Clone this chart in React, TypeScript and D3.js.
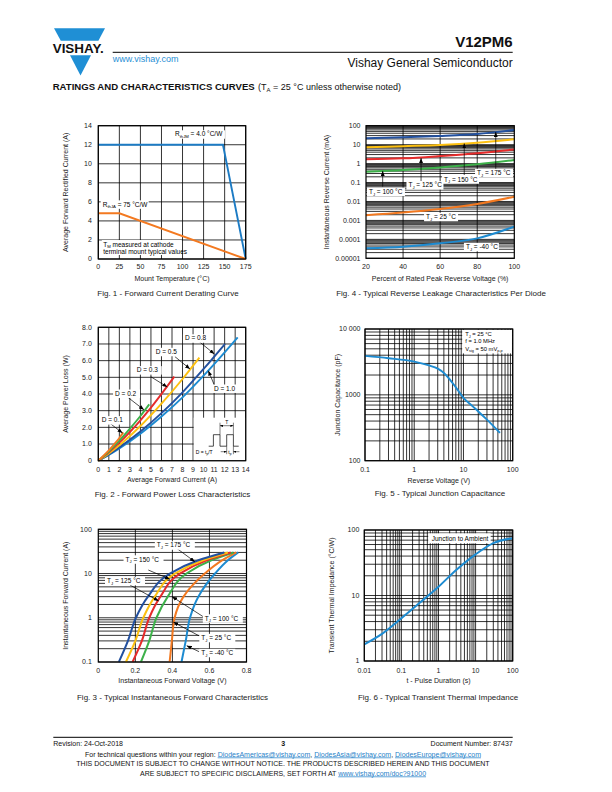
import React from "react";
import * as d3 from "d3";

const FONT = "'Liberation Sans', Arial, Helvetica, sans-serif";

const BLUE_DARK = "#22509f";
const BLUE_LIGHT = "#1d8bd1";
const ORANGE = "#f37920";
const YELLOW = "#fdc010";
const RED = "#e62b2b";
const GREEN = "#3db14a";
const BLUE_FIG1 = "#1c7bc4";
const VISHAY_BLUE = "#1f8fd5";
const LINK = "#1f7fc8";

type Pt = [number, number];

// ---------------- Fig. 1 ----------------
const fig1XTicks = [0, 25, 50, 75, 100, 125, 150, 175];
const fig1YTicks = [0, 2, 4, 6, 8, 10, 12, 14];
const fig1RthJM: Pt[] = [[0, 12], [148, 12], [175, 0]];
const fig1RthJA: Pt[] = [[0, 4.8], [25, 4.8], [175, 0]];

// ---------------- Fig. 2 ----------------
const fig2XTicks = [0, 1, 2, 3, 4, 5, 6, 7, 8, 9, 10, 11, 12, 13, 14];
const fig2YTicks = [0, 1, 2, 3, 4, 5, 6, 7, 8];
const fig2YLabels = ["0", "1.0", "2.0", "3.0", "4.0", "5.0", "6.0", "7.0", "8.0"];
const fig2D01: Pt[] = [[0, 0], [0.5, 0.3], [1, 0.62], [1.5, 0.98], [2, 1.36], [2.37, 1.7]];
const fig2D02: Pt[] = [[0, 0], [1, 0.55], [2, 1.2], [3, 1.92], [4, 2.68], [4.84, 3.38]];
const fig2D03: Pt[] = [[0, 0], [1, 0.5], [2, 1.08], [3, 1.72], [4, 2.42], [5, 3.18], [6, 4.0], [7.22, 5.04]];
const fig2D05: Pt[] = [[0, 0], [1, 0.44], [2, 0.93], [4, 2.08], [6, 3.42], [8, 4.9], [9.6, 6.18]];
const fig2D08: Pt[] = [[0, 0], [1, 0.38], [2, 0.8], [4, 1.75], [6, 2.85], [8, 4.1], [10, 5.5], [12.03, 7.0]];
const fig2D10: Pt[] = [[0, 0], [1, 0.35], [2, 0.74], [4, 1.62], [6, 2.65], [8, 3.8], [10, 5.1], [12, 6.5], [13.24, 7.4]];

// ---------------- Fig. 3 ----------------
const fig3XTicks = [0, 0.2, 0.4, 0.6, 0.8];
const fig3XLabels = ["0", "0.2", "0.4", "0.6", "0.8"];
const fig3YTicks = [0.1, 1, 10, 100];
const fig3YLabels = ["0.1", "1", "10", "100"];
const fig3Current = [0.1, 0.3, 1, 3, 10, 20, 30];
const fig3T175 = [0.111, 0.16, 0.203, 0.268, 0.386, 0.54, 0.68];
const fig3T150 = [0.149, 0.2, 0.243, 0.305, 0.413, 0.565, 0.7];
const fig3T125 = [0.185, 0.235, 0.275, 0.335, 0.44, 0.585, 0.715];
const fig3T100 = [0.23, 0.275, 0.314, 0.375, 0.476, 0.61, 0.73];
const fig3T25 = [0.385, 0.397, 0.412, 0.46, 0.575, 0.67, 0.745];
const fig3Tm40 = [0.449, 0.472, 0.495, 0.54, 0.63, 0.7, 0.755];

// ---------------- Fig. 4 ----------------
const fig4XTicks = [20, 40, 60, 80, 100];
const fig4YTicks = [1e-5, 1e-4, 1e-3, 1e-2, 0.1, 1, 10, 100];
const fig4YLabels = ["0.00001", "0.0001", "0.001", "0.01", "0.1", "1", "10", "100"];
const fig4Pct = [20, 40, 60, 80, 100];
const fig4T175 = [21.6, 24.4, 28.6, 36.5, 59];
const fig4T150 = [7.2, 8.3, 9.6, 12.6, 19];
const fig4T125 = [1.7, 1.9, 2.5, 3.5, 5.6];
const fig4T100 = [0.37, 0.46, 0.63, 0.92, 1.55];
const fig4T25 = [0.0019, 0.0026, 0.004, 0.0074, 0.0178];
const fig4Tm40 = [0.000034, 0.000041, 0.000062, 0.000113, 0.00047];

// ---------------- Fig. 5 ----------------
const fig5XTicks = [0.1, 1, 10, 100];
const fig5XLabels = ["0.1", "1", "10", "100"];
const fig5YTicks = [100, 1000, 10000];
const fig5YLabels = ["100", "1000", "10 000"];
const fig5Voltage = [0.1, 0.3, 1, 2, 3, 4, 5, 7, 10, 15, 20, 30, 55];
const fig5Cap = [3900, 3600, 3200, 2800, 2500, 2150, 1800, 1300, 900, 680, 560, 420, 265];

// ---------------- Fig. 6 ----------------
const fig6XTicks = [0.01, 0.1, 1, 10, 100];
const fig6XLabels = ["0.01", "0.1", "1", "10", "100"];
const fig6YTicks = [1, 10, 100];
const fig6YLabels = ["1", "10", "100"];
const fig6Time = [0.01, 0.03, 0.1, 0.3, 1, 3, 10, 30, 100];
const fig6Z = [1.8, 2.6, 4.5, 7.6, 13.6, 24.5, 42.5, 63, 75];

// ---------------- helpers ----------------
function Sub({ b, s, r, fs }: { b: string; s: string; r: string; fs: number }) {
  return (
    <>
      {b}
      <tspan fontSize={fs * 0.65} dy={fs * 0.28}>{s}</tspan>
      <tspan dy={-fs * 0.28}>{r}</tspan>
    </>
  );
}

function Label({ x, y, w, fs = 6.5, children }: { x: number; y: number; w: number; fs?: number; children: React.ReactNode }) {
  return (
    <g>
      <rect x={x - 2} y={y - fs * 0.95} width={w} height={fs * 1.3} fill="#fff" />
      <text x={x} y={y} fontSize={fs}>{children}</text>
    </g>
  );
}

function Arrow({ x1, y1, x2, y2 }: { x1: number; y1: number; x2: number; y2: number }) {
  return <line x1={x1} y1={y1} x2={x2} y2={y2} stroke="#000" strokeWidth={0.7} markerEnd="url(#arr)" />;
}

type FrameProps = {
  x: any;
  y: any;
  xGrid: number[];
  yGrid: number[];
  xTicks: number[];
  xLabels: string[];
  yTicks: number[];
  yLabels: string[];
  yLabelGap: number;
  xLabelY: number;
  xTitle: string;
  xTitleY: number;
  yTitle: string;
  yTitleX: number;
  caption: string;
  captionX: number;
  captionY: number;
  children?: React.ReactNode;
};

function Frame(p: FrameProps) {
  const [x0, x1] = p.x.range();
  const [yb, yt] = p.y.range();
  const xm = (x0 + x1) / 2;
  const ym = (yb + yt) / 2;
  return (
    <g>
      <g stroke="#000" strokeWidth={0.8}>
        {p.xGrid.map((v, i) => (
          <line key={"gx" + i} x1={p.x(v)} x2={p.x(v)} y1={yt} y2={yb} />
        ))}
        {p.yGrid.map((v, i) => (
          <line key={"gy" + i} x1={x0} x2={x1} y1={p.y(v)} y2={p.y(v)} />
        ))}
      </g>
      {p.children}
      <rect x={x0} y={yt} width={x1 - x0} height={yb - yt} fill="none" stroke="#000" strokeWidth={1.2} />
      <g fontSize={7} fill="#222">
        {p.xTicks.map((v, i) => (
          <text key={"xl" + i} x={p.x(v)} y={p.xLabelY} textAnchor="middle">{p.xLabels[i]}</text>
        ))}
        {p.yTicks.map((v, i) => (
          <text key={"yl" + i} x={x0 - p.yLabelGap} y={p.y(v)} dy="0.35em" textAnchor="end">{p.yLabels[i]}</text>
        ))}
        <text x={xm} y={p.xTitleY} textAnchor="middle">{p.xTitle}</text>
        <text transform={`translate(${p.yTitleX},${ym}) rotate(-90)`} textAnchor="middle">{p.yTitle}</text>
      </g>
      <text x={p.captionX} y={p.captionY} fontSize={8} textAnchor="middle" fill="#222">{p.caption}</text>
    </g>
  );
}

const pathOf = (pts: Pt[], x: any, y: any, curve: any = d3.curveLinear) =>
  d3.line<Pt>().x((d) => x(d[0])).y((d) => y(d[1])).curve(curve)(pts) || "";

// ---------------- figures ----------------
function Fig1() {
  const x = d3.scaleLinear().domain([0, 175]).range([98.3, 245.7]);
  const y = d3.scaleLinear().domain([0, 14]).range([259, 125.7]);
  const fs = 6.5;
  return (
    <Frame x={x} y={y} xGrid={fig1XTicks} yGrid={fig1YTicks} xTicks={fig1XTicks} xLabels={fig1XTicks.map(String)}
      yTicks={fig1YTicks} yLabels={fig1YTicks.map(String)} yLabelGap={6.5} xLabelY={269} xTitle="Mount Temperature (°C)"
      xTitleY={281} yTitle="Average Forward Rectified Current (A)" yTitleX={68} caption="Fig. 1 - Forward Current Derating Curve"
      captionX={168} captionY={296}>
      <path d={pathOf(fig1RthJM, x, y)} fill="none" stroke={BLUE_FIG1} strokeWidth={1.9} />
      <path d={pathOf(fig1RthJA, x, y)} fill="none" stroke={ORANGE} strokeWidth={1.9} />
      <Label x={x(91)} y={y(12.87)} w={52} fs={fs}><Sub b="R" s="thJM" r=" = 4.0 °C/W" fs={fs} /></Label>
      <Label x={x(5.2)} y={y(5.51)} w={48} fs={fs}><Sub b="R" s="thJA" r=" = 75 °C/W" fs={fs} /></Label>
      <rect x={x(4.2)} y={y(1.31) - 6.5} width={80} height={15} fill="#fff" />
      <text x={x(5.9)} y={y(1.31)} fontSize={fs}><Sub b="T" s="M" r=" measured at cathode" fs={fs} /></text>
      <text x={x(5.9)} y={y(0.525)} fontSize={fs}>terminal mount typical values</text>
    </Frame>
  );
}

function Fig2() {
  const x = d3.scaleLinear().domain([0, 14]).range([98.3, 245.7]);
  const y = d3.scaleLinear().domain([0, 8]).range([460.7, 327.3]);
  const fs = 6.5;
  const series: { pts: Pt[]; color: string }[] = [
    { pts: fig2D10, color: BLUE_LIGHT },
    { pts: fig2D08, color: BLUE_DARK },
    { pts: fig2D05, color: YELLOW },
    { pts: fig2D03, color: RED },
    { pts: fig2D02, color: GREEN },
    { pts: fig2D01, color: ORANGE },
  ];
  const labels: { t: string; at: Pt; w: number; a: [Pt, Pt] }[] = [
    { t: "D = 0.8", at: [8.23, 7.21], w: 27, a: [[9.59, 7.14], [11.02, 6.4]] },
    { t: "D = 0.5", at: [5.45, 6.4], w: 27, a: [[7.28, 6.24], [8.71, 5.5]] },
    { t: "D = 0.3", at: [3.65, 5.3], w: 27, a: [[4.98, 5.04], [6.55, 4.42]] },
    { t: "D = 0.2", at: [1.59, 3.9], w: 27, a: [[2.85, 3.78], [4.34, 3.05]] },
    { t: "D = 0.1", at: [0.32, 2.3], w: 27, a: [[1.11, 2.24], [2.3, 1.66]] },
    { t: "D = 1.0", at: [10.99, 4.2], w: 27, a: [[11.08, 4.44], [10.45, 5.4]] },
  ];
  const [, x1] = x.range();
  const [yb] = y.range();
  // inset (pulse waveform schematic) anchored to lower-right corner
  const ix = x1 - 52;
  const iy = yb - 43;
  const base = iy + 28.5;
  const high = iy + 17;
  const r1 = ix + 19.7, f1 = ix + 26.3, r2 = ix + 33, f2 = ix + 39.7;
  return (
    <Frame x={x} y={y} xGrid={fig2XTicks} yGrid={fig2YTicks} xTicks={fig2XTicks} xLabels={fig2XTicks.map(String)}
      yTicks={fig2YTicks} yLabels={fig2YLabels} yLabelGap={6.5} xLabelY={471.5} xTitle="Average Forward Current (A)"
      xTitleY={482} yTitle="Average Power Loss (W)" yTitleX={68} caption="Fig. 2 - Forward Power Loss Characteristics"
      captionX={172.5} captionY={497}>
      {series.map((s, i) => (
        <path key={i} d={pathOf(s.pts, x, y, d3.curveMonotoneX)} fill="none" stroke={s.color} strokeWidth={1.9} />
      ))}
      {labels.map((l, i) => (
        <Arrow key={"a" + i} x1={x(l.a[0][0])} y1={y(l.a[0][1])} x2={x(l.a[1][0])} y2={y(l.a[1][1])} />
      ))}
      {labels.map((l, i) => (
        <Label key={"l" + i} x={x(l.at[0])} y={y(l.at[1])} w={l.w} fs={fs}>{l.t}</Label>
      ))}
      <rect x={ix} y={iy} width={52} height={43} fill="#fff" />
      <path d={`M${ix + 15},${base}H${r1}V${high}H${f1}V${base}H${r2}V${high}H${f2}V${base}H${ix + 45}`} fill="none" stroke="#000" strokeWidth={0.7} />
      <line x1={f1} x2={f1} y1={high} y2={iy + 5} stroke="#000" strokeWidth={0.5} />
      <line x1={f2} x2={f2} y1={high} y2={iy + 5} stroke="#000" strokeWidth={0.5} />
      <line x1={f1} x2={f2} y1={iy + 8} y2={iy + 8} stroke="#000" strokeWidth={0.5} markerEnd="url(#arrS)" markerStart="url(#arrSr)" />
      <text x={(f1 + f2) / 2} y={iy + 6} fontSize={5} textAnchor="middle">T</text>
      <line x1={r2} x2={r2} y1={base} y2={base + 8} stroke="#000" strokeWidth={0.5} />
      <line x1={f2} x2={f2} y1={base} y2={base + 8} stroke="#000" strokeWidth={0.5} />
      <line x1={r2 - 6} x2={r2} y1={base + 5.5} y2={base + 5.5} stroke="#000" strokeWidth={0.5} markerEnd="url(#arrS)" />
      <line x1={f2 + 6} x2={f2} y1={base + 5.5} y2={base + 5.5} stroke="#000" strokeWidth={0.5} markerEnd="url(#arrS)" />
      <text x={r2 + 1.6} y={base + 7.5} fontSize={5}><Sub b="t" s="p" r="" fs={5} /></text>
      <text x={ix + 2} y={base + 7.5} fontSize={5}>D = <Sub b="t" s="p" r="/T" fs={5} /></text>
    </Frame>
  );
}

function Fig3() {
  const x = d3.scaleLinear().domain([0, 0.8]).range([98.3, 246.5]);
  const y = d3.scaleLog().domain([0.1, 100]).range([662, 529.3]);
  const fs = 6.5;
  const series: { v: number[]; color: string }[] = [
    { v: fig3Tm40, color: BLUE_LIGHT },
    { v: fig3T25, color: ORANGE },
    { v: fig3T100, color: GREEN },
    { v: fig3T125, color: RED },
    { v: fig3T150, color: YELLOW },
    { v: fig3T175, color: BLUE_DARK },
  ];
  const labels: { t: string; at: Pt; w: number; a: [Pt, Pt] }[] = [
    { t: " = 175 °C", at: [0.316, 38.8], w: 40, a: [[0.423, 37.2], [0.521, 18.5]] },
    { t: " = 150 °C", at: [0.147, 18.7], w: 40, a: [[0.27, 12], [0.387, 7.4]] },
    { t: " = 125 °C", at: [0.047, 6.1], w: 40, a: [[0.171, 5.5], [0.326, 2.4]] },
    { t: " = 100 °C", at: [0.575, 0.867], w: 40, a: [[0.566, 1.06], [0.398, 3.0]] },
    { t: " = 25 °C", at: [0.556, 0.314], w: 36, a: [[0.544, 0.39], [0.405, 0.8]] },
    { t: " = -40 °C", at: [0.556, 0.144], w: 36, a: [[0.544, 0.171], [0.477, 0.234]] },
  ];
  return (
    <Frame x={x} y={y} xGrid={[0.2, 0.4, 0.6]} yGrid={y.ticks()} xTicks={fig3XTicks} xLabels={fig3XLabels}
      yTicks={fig3YTicks} yLabels={fig3YLabels} yLabelGap={6.5} xLabelY={672.5} xTitle="Instantaneous Forward Voltage (V)"
      xTitleY={683} yTitle="Instantaneous Forward Current (A)" yTitleX={68}
      caption="Fig. 3 - Typical Instantaneous Forward Characteristics" captionX={172.5} captionY={699.5}>
      {series.map((s, i) => (
        <path key={i} d={pathOf(s.v.map((v, j) => [v, fig3Current[j]] as Pt), x, y, d3.curveMonotoneY)} fill="none" stroke={s.color} strokeWidth={2} />
      ))}
      {labels.map((l, i) => (
        <Arrow key={"a" + i} x1={x(l.a[0][0])} y1={y(l.a[0][1])} x2={x(l.a[1][0])} y2={y(l.a[1][1])} />
      ))}
      {labels.map((l, i) => (
        <Label key={"l" + i} x={x(l.at[0])} y={y(l.at[1])} w={l.w} fs={fs}><Sub b="T" s="J" r={l.t} fs={fs} /></Label>
      ))}
    </Frame>
  );
}

function Fig4() {
  const x = d3.scaleLinear().domain([20, 100]).range([366, 514.3]);
  const y = d3.scaleLog().domain([1e-5, 100]).range([258.3, 125.7]);
  const fs = 6.5;
  const series: { v: number[]; color: string }[] = [
    { v: fig4T175, color: BLUE_DARK },
    { v: fig4T150, color: YELLOW },
    { v: fig4T125, color: RED },
    { v: fig4T100, color: GREEN },
    { v: fig4T25, color: ORANGE },
    { v: fig4Tm40, color: BLUE_LIGHT },
  ];
  const arrows: [Pt, Pt][] = [
    [[29, 0.06], [29, 0.41]],
    [[49.7, 0.12], [49.7, 1.95]],
    [[73, 0.25], [73, 11.5]],
    [[90, 0.5], [90, 46]],
  ];
  const labels: { t: string; at: Pt; w: number }[] = [
    { t: " = 175 °C", at: [79.9, 0.249], w: 38 },
    { t: " = 150 °C", at: [62.1, 0.113], w: 37 },
    { t: " = 125 °C", at: [42.9, 0.056], w: 37 },
    { t: " = 100 °C", at: [21.6, 0.0254], w: 38 },
    { t: " = 25 °C", at: [52.4, 0.00119], w: 34 },
    { t: " = -40 °C", at: [73.9, 0.000031], w: 35 },
  ];
  return (
    <Frame x={x} y={y} xGrid={[40, 60, 80]} yGrid={y.ticks()} xTicks={fig4XTicks} xLabels={fig4XTicks.map(String)}
      yTicks={fig4YTicks} yLabels={fig4YLabels} yLabelGap={5.5} xLabelY={269} xTitle="Percent of Rated Peak Reverse Voltage (%)"
      xTitleY={281} yTitle="Instantaneous Reverse Current (mA)" yTitleX={329}
      caption="Fig. 4 - Typical Reverse Leakage Characteristics Per Diode" captionX={441} captionY={296}>
      {series.map((s, i) => (
        <path key={i} d={pathOf(s.v.map((v, j) => [fig4Pct[j], v] as Pt), x, y, d3.curveMonotoneX)} fill="none" stroke={s.color} strokeWidth={2} />
      ))}
      {arrows.map((a, i) => (
        <Arrow key={"a" + i} x1={x(a[0][0])} y1={y(a[0][1])} x2={x(a[1][0])} y2={y(a[1][1])} />
      ))}
      {labels.map((l, i) => (
        <Label key={"l" + i} x={x(l.at[0])} y={y(l.at[1])} w={l.w} fs={fs}><Sub b="T" s="J" r={l.t} fs={fs} /></Label>
      ))}
    </Frame>
  );
}

function Fig5() {
  const x = d3.scaleLog().domain([0.1, 100]).range([365, 512.7]);
  const y = d3.scaleLog().domain([100, 10000]).range([460.7, 329]);
  const fs = 5.8;
  const [, x1] = x.range();
  const [, yt] = y.range();
  const bx = x1 - 50.5;
  const by = yt + 0.8;
  return (
    <Frame x={x} y={y} xGrid={x.ticks()} yGrid={y.ticks()} xTicks={fig5XTicks} xLabels={fig5XLabels}
      yTicks={fig5YTicks} yLabels={fig5YLabels} yLabelGap={4.5} xLabelY={471.5} xTitle="Reverse Voltage (V)"
      xTitleY={483} yTitle="Junction Capacitance (pF)" yTitleX={340}
      caption="Fig. 5 - Typical Junction Capacitance" captionX={440} captionY={495.5}>
      <path d={pathOf(fig5Voltage.map((v, j) => [v, fig5Cap[j]] as Pt), x, y, d3.curveMonotoneX)} fill="none" stroke={BLUE_LIGHT} strokeWidth={1.9} />
      <rect x={bx} y={by} width={49.8} height={23.6} fill="#fff" />
      <text x={bx + 3} y={by + 6.3} fontSize={fs}><Sub b="T" s="J" r=" = 25 °C" fs={fs} /></text>
      <text x={bx + 3} y={by + 13.6} fontSize={fs}>f = 1.0 MHz</text>
      <text x={bx + 3} y={by + 20.9} fontSize={fs}><Sub b="V" s="sig" r=" = 50 mV" fs={fs} /><tspan fontSize={fs * 0.65} dy={fs * 0.28}>p-p</tspan></text>
    </Frame>
  );
}

function Fig6() {
  const x = d3.scaleLog().domain([0.01, 100]).range([364.3, 512.7]);
  const y = d3.scaleLog().domain([1, 100]).range([661, 530]);
  const fs = 6.5;
  const [, x1] = x.range();
  const [, yt] = y.range();
  return (
    <Frame x={x} y={y} xGrid={x.ticks()} yGrid={y.ticks()} xTicks={fig6XTicks} xLabels={fig6XLabels}
      yTicks={fig6YTicks} yLabels={fig6YLabels} yLabelGap={5} xLabelY={672.5} xTitle="t - Pulse Duration (s)"
      xTitleY={683} yTitle="Transient Thermal Impedance (°C/W)" yTitleX={334}
      caption="Fig. 6 - Typical Transient Thermal Impedance" captionX={438} captionY={699.5}>
      <path d={pathOf(fig6Time.map((v, j) => [v, fig6Z[j]] as Pt), x, y, d3.curveMonotoneX)} fill="none" stroke={BLUE_LIGHT} strokeWidth={2} />
      <rect x={x1 - 84.5} y={yt + 3.3} width={62.5} height={10} fill="#fff" />
      <text x={x1 - 81} y={yt + 10.5} fontSize={fs}>Junction to Ambient</text>
    </Frame>
  );
}

function Header() {
  return (
    <g>
      <polygon points="54,28.3 105,28.3 98.4,40.8 60.8,40.8" fill={VISHAY_BLUE} />
      <polygon points="70,55.2 91,55.2 80.5,75.5" fill={VISHAY_BLUE} />
      <text x={52.7} y={53} fontSize={12.5} fontWeight="bold" textLength={51} lengthAdjust="spacingAndGlyphs" fill="#111">VISHAY.</text>
      <line x1={112.7} x2={512.7} y1={52.3} y2={52.3} stroke="#000" strokeWidth={1} />
      <text x={112.7} y={62} fontSize={9} fill={VISHAY_BLUE}>www.vishay.com</text>
      <text x={512.7} y={46.5} fontSize={15} fontWeight="bold" textAnchor="end" fill="#111">V12PM6</text>
      <text x={512.7} y={66.5} fontSize={12} textAnchor="end" fill="#111">Vishay General Semiconductor</text>
      <text x={52.7} y={90} fontSize={9.2} fontWeight="bold" textLength={202} lengthAdjust="spacingAndGlyphs" fill="#111">RATINGS AND CHARACTERISTICS CURVES</text>
      <text x={258} y={90} fontSize={9} fill="#111">(T<tspan fontSize={6} dy={2}>A</tspan><tspan dy={-2}> = 25 °C unless otherwise noted)</tspan></text>
    </g>
  );
}

function Footer() {
  const u = { textDecoration: "underline" } as React.CSSProperties;
  return (
    <g fontSize={7} fill="#111">
      <line x1={53.3} x2={512.7} y1={737.3} y2={737.3} stroke="#000" strokeWidth={1} />
      <text x={53.3} y={745.5}>Revision: 24-Oct-2018</text>
      <text x={283.3} y={746} textAnchor="middle" fontWeight="bold">3</text>
      <text x={512.7} y={745.5} textAnchor="end">Document Number: 87437</text>
      <text x={283} y={756.5} textAnchor="middle">
        For technical questions within your region:{" "}
        <tspan fill={LINK} style={u}>DiodesAmericas@vishay.com</tspan>,{" "}
        <tspan fill={LINK} style={u}>DiodesAsia@vishay.com</tspan>,{" "}
        <tspan fill={LINK} style={u}>DiodesEurope@vishay.com</tspan>
      </text>
      <text x={283} y={766} textAnchor="middle">THIS DOCUMENT IS SUBJECT TO CHANGE WITHOUT NOTICE. THE PRODUCTS DESCRIBED HEREIN AND THIS DOCUMENT</text>
      <text x={283} y={775.5} textAnchor="middle">
        ARE SUBJECT TO SPECIFIC DISCLAIMERS, SET FORTH AT <tspan fill={LINK} style={u}>www.vishay.com/doc?91000</tspan>
      </text>
    </g>
  );
}

export default function App() {
  return (
    <svg width={612} height={792} viewBox="0 0 612 792" style={{ position: "absolute", left: 0, top: 0, background: "#fff" }}
      fontFamily={FONT}>
      <defs>
        <marker id="arr" viewBox="0 0 10 8" refX={10} refY={4} markerWidth={5} markerHeight={4} markerUnits="userSpaceOnUse" orient="auto">
          <path d="M0,0L10,4L0,8z" fill="#000" />
        </marker>
        <marker id="arrS" viewBox="0 0 10 8" refX={10} refY={4} markerWidth={3} markerHeight={2.4} markerUnits="userSpaceOnUse" orient="auto">
          <path d="M0,0L10,4L0,8z" fill="#000" />
        </marker>
        <marker id="arrSr" viewBox="0 0 10 8" refX={0} refY={4} markerWidth={3} markerHeight={2.4} markerUnits="userSpaceOnUse" orient="auto">
          <path d="M10,0L0,4L10,8z" fill="#000" />
        </marker>
      </defs>
      <rect width={612} height={792} fill="#fff" />
      <Header />
      <Fig1 />
      <Fig4 />
      <Fig2 />
      <Fig5 />
      <Fig3 />
      <Fig6 />
      <Footer />
    </svg>
  );
}
